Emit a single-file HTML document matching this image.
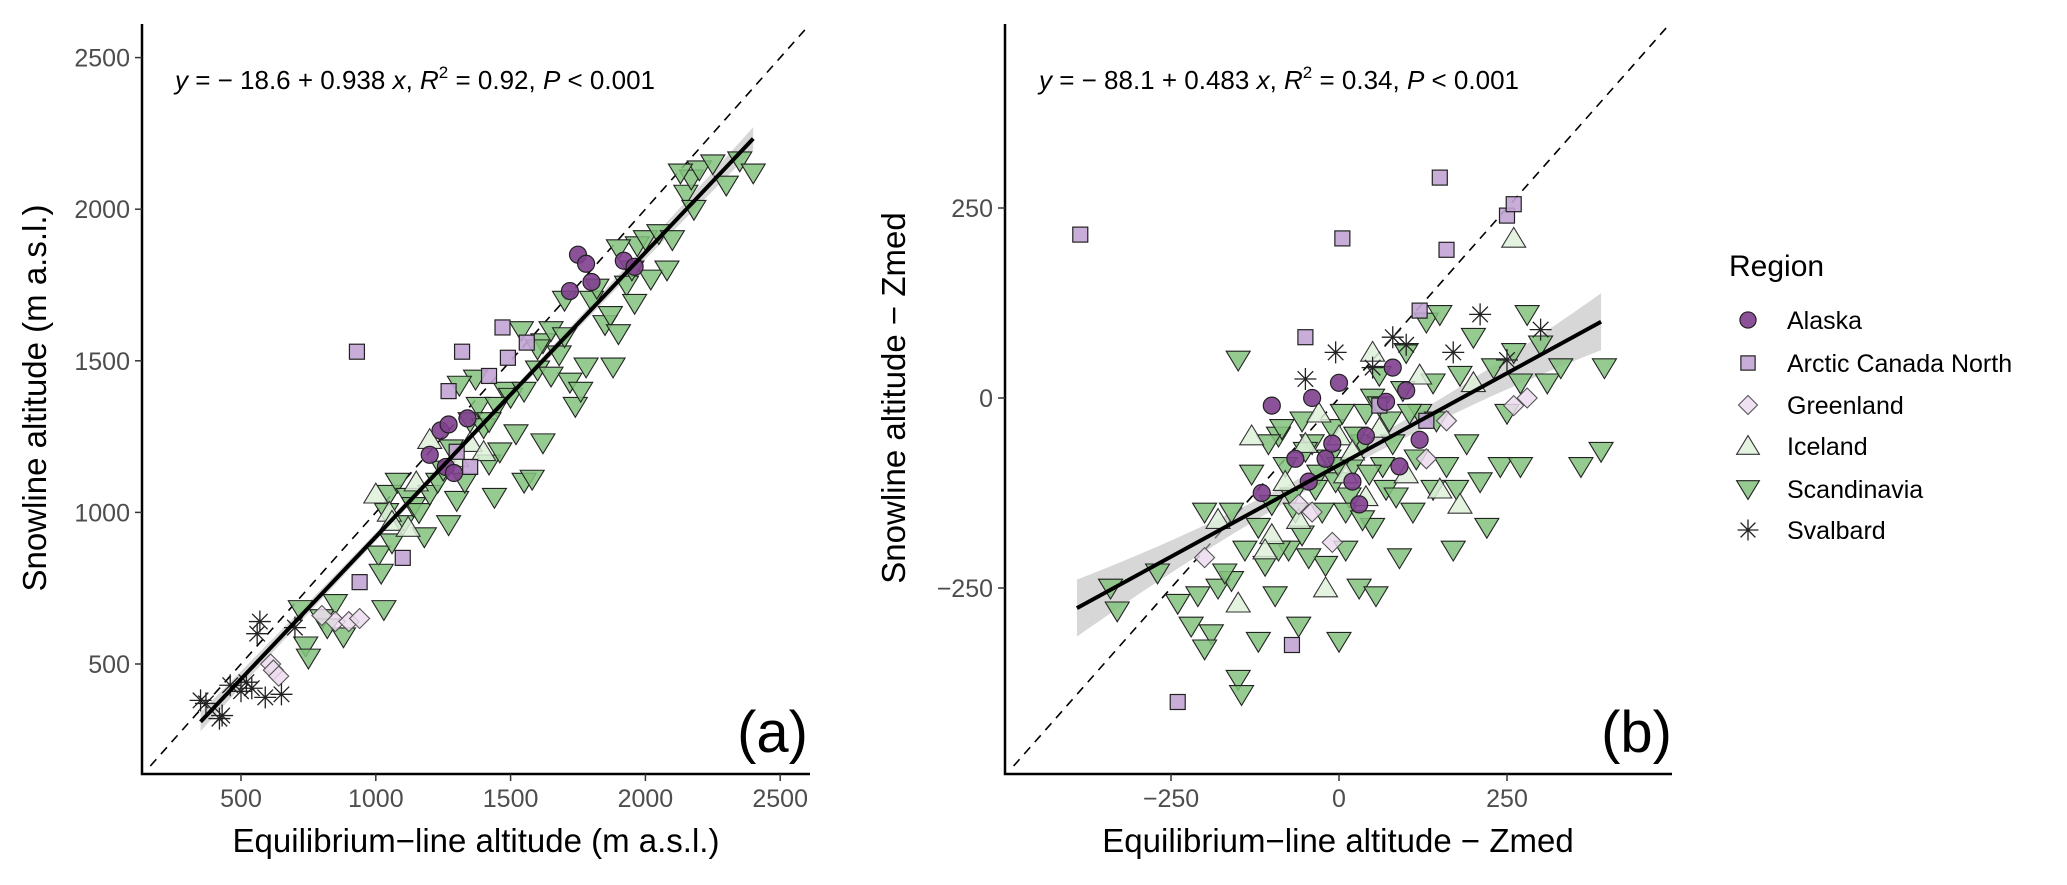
<!DOCTYPE html>
<html><head><meta charset="utf-8"><style>
html,body{margin:0;padding:0;background:#fff}
svg{display:block;font-family:"Liberation Sans",Arial,sans-serif}
</style></head><body>
<svg id="chart" width="2067" height="885" viewBox="0 0 2067 885" xmlns="http://www.w3.org/2000/svg">
<g id="pa"></g>
<g id="pb"></g>
<g id="legend"></g>
</svg>
<script>
// ---------- Panel A data (ELA, Snowline) ----------
const aSvalbardX=[350,370,420,430,460,500,520,560,570,590,650,700,540];
const aSvalbardY=[380,370,320,330,430,410,440,600,640,390,400,620,420];
const aGreenlandX=[610,620,640,850,900,940,800];
const aGreenlandY=[500,480,460,640,640,650,660];
const aArcticX=[930,1100,940,1320,1470,1490,1560,1270,1420,1350,1300];
const aArcticY=[1530,850,770,1530,1610,1510,1560,1400,1450,1150,1200];
const aAlaskaX=[1200,1240,1270,1340,1260,1290,1750,1780,1720,1800,1920,1960];
const aAlaskaY=[1190,1270,1290,1310,1150,1130,1850,1820,1730,1760,1830,1810];
const aIcelandX=[1000,1050,1150,1200,1350,1060,1120,1400,1300];
const aIcelandY=[1060,1000,1100,1240,1230,970,950,1200,1180];
const aScandX=[740,750,720,800,820,850,880,1030,1010,1020,1040,1050,1060,1080,1100,1120,1140,1160,1200,1230,1250,1280,1300,1330,1350,1380,1400,1420,1440,1460,1480,1500,1520,1550,1580,1600,1620,1650,1680,1700,1720,1740,1760,1780,1800,1820,1850,1870,1900,1930,1950,1970,2000,2020,2050,2080,2100,2150,2170,2200,2250,2300,2350,2400,2180,1880,1600,1540,1450,1370,1310,1620,1960,1900,2130,1180,1270,1420,1700,1550,1650];
const aScandY=[560,520,680,650,620,700,590,680,860,800,1000,1060,900,1100,960,1050,1020,1000,1060,1100,1140,1210,1040,1100,1300,1350,1280,1160,1050,1200,1400,1380,1260,1100,1110,1470,1560,1600,1520,1580,1430,1350,1400,1480,1700,1740,1620,1650,1590,1750,1800,1880,1900,1770,1920,1800,1900,2050,2100,2130,2150,2080,2160,2120,2000,1480,1540,1600,1350,1440,1420,1230,1690,1870,2120,920,960,1300,1700,1400,1450];
const aXTicks=[500,1000,1500,2000,2500];
const aYTicks=[500,1000,1500,2000,2500];
const aFit=[-18.6,0.938];
const aFitRange=[350,2400];

// ---------- Panel B data ----------
const bArcticX=[-385,5,150,160,250,260,-50,120,-70,-240,130,60];
const bArcticY=[215,210,290,195,240,255,80,115,-325,-400,-30,-10];
const bAlaskaX=[-115,-100,-65,-40,-20,0,20,40,80,100,120,90,-10,-45,30,70];
const bAlaskaY=[-125,-10,-80,0,-80,20,-110,-50,40,10,-55,-90,-60,-110,-140,-5];
const bGreenlandX=[-200,-60,-40,130,160,280,260,-10];
const bGreenlandY=[-210,-140,-150,-80,-30,0,-10,-190];
const bIcelandX=[-150,-100,-180,-50,0,50,100,150,260,200,-130,-20,120,180,-80,-30,20,60,-60,10,40,-110];
const bIcelandY=[-270,-180,-160,-60,-50,60,-100,-120,210,20,-50,-250,30,-140,-110,-20,-70,-40,-160,-100,-130,-200];
const bSvalbardX=[-50,-5,50,100,210,300,250,170,80];
const bSvalbardY=[25,60,40,70,110,90,50,60,80];
const bScandX=[-340,-330,-270,-240,-220,-210,-190,-180,-160,-150,-150,-145,-140,-120,-110,-100,-95,-80,-75,-60,-55,-40,-30,-20,-10,0,10,20,30,40,50,55,60,70,80,90,100,110,120,130,140,150,160,170,180,190,200,210,220,240,250,260,270,280,300,310,330,360,390,395,-200,-170,-130,-90,-70,-50,-25,15,35,65,95,115,145,175,230,270,-120,-200,-85,-65,-35,-15,5,25,45,75,-105,-55,10,50,85,-45,-5,35,105,-90,-160,140,60,0];
const bScandY=[-250,-280,-230,-270,-300,-260,-310,-250,-240,50,-370,-390,-200,-170,-220,-140,-260,-90,-200,-300,-180,-60,-100,-220,-40,-320,-200,-90,-250,-20,-170,-260,30,-120,-60,-210,60,-150,-20,100,-120,110,-90,-200,30,-60,80,-110,-170,-90,-20,60,20,110,70,20,40,-90,-70,40,-150,-230,-100,-50,-130,-70,-150,-130,-60,-90,10,-80,-30,-120,40,-90,-320,-330,-40,-150,-120,-80,-20,-50,-100,-30,-60,-30,-150,0,-130,-210,-110,-160,-20,-200,-150,20,-10,-90];
const bXTicks=[-250,0,250];
const bYTicks=[-250,0,250];
const bFit=[-88.1,0.483];
const bFitRange=[-390,390];

const regions=["Alaska","Arctic Canada North","Greenland","Iceland","Scandinavia","Svalbard"];

const NS="http://www.w3.org/2000/svg";
const COL={Alaska:"#7f3f8e","Arctic Canada North":"#c2a4d4",Greenland:"#ecdcef",Iceland:"#def1da",Scandinavia:"#83c27d"};
function mk(tag,attrs,parent){const e=document.createElementNS(NS,tag);for(const k in attrs)e.setAttribute(k,attrs[k]);parent.appendChild(e);return e;}

function marker(g,shape,cx,cy,s){
  let e;
  if(shape==="Alaska"){e=mk("circle",{cx:cx,cy:cy,r:8.5*s,fill:COL.Alaska,"fill-opacity":0.9,stroke:"#222","stroke-width":1.2},g);}
  else if(shape==="Arctic Canada North"){const h=7.5*s;e=mk("rect",{x:cx-h,y:cy-h,width:2*h,height:2*h,fill:COL[shape],"fill-opacity":0.9,stroke:"#222","stroke-width":1.2},g);}
  else if(shape==="Greenland"){const h=10*s;e=mk("polygon",{points:`${cx},${cy-h} ${cx+h},${cy} ${cx},${cy+h} ${cx-h},${cy}`,fill:COL[shape],"fill-opacity":0.85,stroke:"#555","stroke-width":1.1},g);}
  else if(shape==="Iceland"){const w=12*s,h=11*s;e=mk("polygon",{points:`${cx},${cy-h} ${cx+w},${cy+h*0.8} ${cx-w},${cy+h*0.8}`,fill:COL[shape],"fill-opacity":0.85,stroke:"#333","stroke-width":1.1},g);}
  else if(shape==="Scandinavia"){const w=12*s,h=11*s;e=mk("polygon",{points:`${cx-w},${cy-h*0.8} ${cx+w},${cy-h*0.8} ${cx},${cy+h}`,fill:COL[shape],"fill-opacity":0.85,stroke:"#222","stroke-width":1.1},g);}
  else {const r=11*s;let d="";for(let i=0;i<4;i++){const a=i*Math.PI/4;d+=`M${cx-r*Math.cos(a)},${cy-r*Math.sin(a)}L${cx+r*Math.cos(a)},${cy+r*Math.sin(a)}`;}e=mk("path",{d:d,stroke:"#222","stroke-width":1.3,fill:"none"},g);}
  return e;
}

function panel(g,o){
  const sx=v=>o.x0px+(v-o.x0v)*o.kx, sy=v=>o.y0px-(v-o.y0v)*o.ky;
  const L=o.left,R=o.right,T=24,B=774;
  const vx=v=>o.x0v+(v-o.x0px)/o.kx, vy=p=>o.y0v+(o.y0px-p)/o.ky;
  const d0=Math.max(vx(L+8),vy(B-8)), d1=Math.min(vx(R),vy(T+4));
  const dl=mk("line",{x1:sx(d0),y1:sy(d0),x2:sx(d1),y2:sy(d1),stroke:"#000","stroke-width":1.6,"stroke-dasharray":"9,7"},g);
  
  
  const [f0,f1]=o.fr, xm=o.xm; let up=[],lo=[];
  for(let i=0;i<=40;i++){const x=f0+(f1-f0)*i/40;const y=o.fit[0]+o.fit[1]*x;const hw=o.bw0+o.bw1*Math.pow((x-xm)/(f1-f0),2);up.push(sx(x)+","+sy(y+hw));lo.unshift(sx(x)+","+sy(y-hw));}
  const band=mk("polygon",{points:up.concat(lo).join(" "),fill:"#bdbdbd","fill-opacity":0.6},g);
  
  
  for(const s of o.series){
    const sg=mk("g",{},g);
    
    
    for(let i=0;i<s.x.length;i++){const m=marker(sg,s.name,sx(s.x[i]),sy(s.y[i]),1);
      
      }
  }
  const fl=mk("line",{x1:sx(f0),y1:sy(o.fit[0]+o.fit[1]*f0),x2:sx(f1),y2:sy(o.fit[0]+o.fit[1]*f1),stroke:"#000","stroke-width":4},g);
  
  
  const ax=mk("path",{d:`M${L},${T}V${B}H${R}`,stroke:"#000","stroke-width":2.5,fill:"none"},g);
  
  
  for(const t of o.xt){const p=sx(t);mk("line",{x1:p,y1:B,x2:p,y2:B+7,stroke:"#333","stroke-width":1.5},g);
    const tx=mk("text",{x:p,y:B+33,"text-anchor":"middle","font-size":25,fill:"#4d4d4d"},g);tx.textContent=String(t).replace("-","\u2212");
    
    }
  for(const t of o.yt){const p=sy(t);mk("line",{x1:L-7,y1:p,x2:L,y2:p,stroke:"#333","stroke-width":1.5},g);
    const tx=mk("text",{x:L-12,y:p+9,"text-anchor":"end","font-size":25,fill:"#4d4d4d"},g);tx.textContent=String(t).replace("-","\u2212");
    
    }
}

const pa=document.getElementById("pa"), pb=document.getElementById("pb");
panel(pa,{left:142,right:810,x0px:241,x0v:500,kx:0.2696,y0px:664,y0v:500,ky:0.3032,fit:aFit,fr:aFitRange,xm:1300,bw0:12,bw1:90,xt:aXTicks,yt:aYTicks,
 series:[{name:"Scandinavia",x:aScandX,y:aScandY},{name:"Iceland",x:aIcelandX,y:aIcelandY},{name:"Greenland",x:aGreenlandX,y:aGreenlandY},{name:"Arctic Canada North",x:aArcticX,y:aArcticY},{name:"Alaska",x:aAlaskaX,y:aAlaskaY},{name:"Svalbard",x:aSvalbardX,y:aSvalbardY}]});
panel(pb,{left:1005,right:1672,x0px:1339,x0v:0,kx:0.672,y0px:398,y0v:0,ky:0.76,fit:bFit,fr:bFitRange,xm:0,bw0:10,bw1:110,xt:bXTicks,yt:bYTicks,
 series:[{name:"Scandinavia",x:bScandX,y:bScandY},{name:"Iceland",x:bIcelandX,y:bIcelandY},{name:"Greenland",x:bGreenlandX,y:bGreenlandY},{name:"Arctic Canada North",x:bArcticX,y:bArcticY},{name:"Alaska",x:bAlaskaX,y:bAlaskaY},{name:"Svalbard",x:bSvalbardX,y:bSvalbardY}]});

const lg=document.getElementById("legend");
const lys=[320,363,405,446,489,530];
regions.forEach((r,i)=>{
  const m=marker(lg,r,1748,lys[i],0.95);
  
  
  const t=mk("text",{x:1787,y:lys[i]+9,"font-size":25,fill:"#000"},lg);t.textContent=r;
  
  
});
</script>
<script>
const s=document.getElementById("chart");
function addText(html){s.insertAdjacentHTML("beforeend",html);}
addText(`<text x="175" y="89" font-size="26" fill="#000"><tspan font-style="italic">y</tspan> = − 18.6 + 0.938 <tspan font-style="italic">x</tspan>,  <tspan font-style="italic">R</tspan><tspan font-size="17" dy="-11">2</tspan><tspan dy="11"> = 0.92,  </tspan><tspan font-style="italic">P</tspan> &lt; 0.001</text>`);
addText(`<text x="1039" y="89" font-size="26" fill="#000"><tspan font-style="italic">y</tspan> = − 88.1 + 0.483 <tspan font-style="italic">x</tspan>,  <tspan font-style="italic">R</tspan><tspan font-size="17" dy="-11">2</tspan><tspan dy="11"> = 0.34,  </tspan><tspan font-style="italic">P</tspan> &lt; 0.001</text>`);
addText(`<text x="808" y="752" text-anchor="end" font-size="58" fill="#000">(a)</text>`);
addText(`<text x="1672" y="752" text-anchor="end" font-size="58" fill="#000">(b)</text>`);
addText(`<text x="476" y="852" text-anchor="middle" font-size="33" fill="#000">Equilibrium−line altitude (m a.s.l.)</text>`);
addText(`<text x="1338" y="852" text-anchor="middle" font-size="33" fill="#000">Equilibrium−line altitude − Zmed</text>`);
addText(`<text transform="translate(46,398) rotate(-90)" text-anchor="middle" font-size="33" fill="#000">Snowline altitude (m a.s.l.)</text>`);
addText(`<text transform="translate(905,398) rotate(-90)" text-anchor="middle" font-size="33" fill="#000">Snowline altitude − Zmed</text>`);
addText(`<text x="1729" y="276" font-size="30" fill="#000">Region</text>`);
</script>
</body></html>
